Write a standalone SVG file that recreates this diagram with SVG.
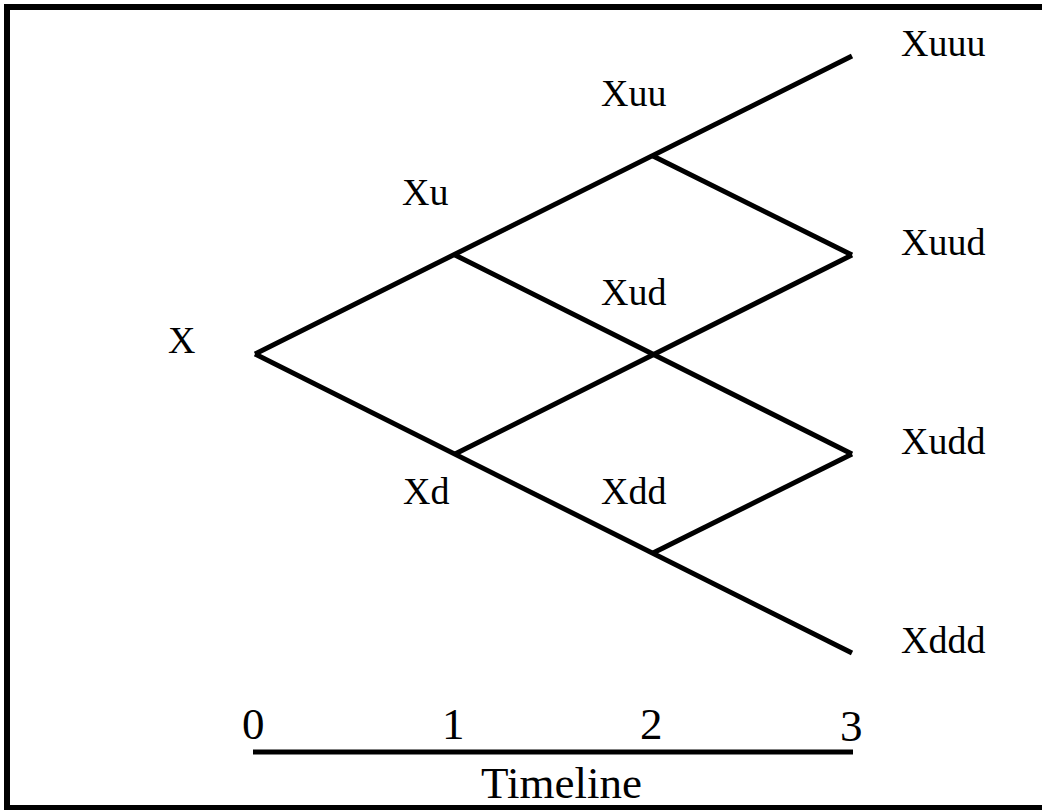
<svg xmlns="http://www.w3.org/2000/svg" width="1042" height="810" viewBox="0 0 1042 810">
<style>
.lbl{font-family:"Liberation Serif","Times New Roman",serif;font-size:38px;fill:#000}
.big{font-family:"Liberation Serif","Times New Roman",serif;font-size:45px;fill:#000}
.edge{stroke:#000;stroke-width:5;fill:none;stroke-linecap:butt}
</style>
<rect x="7" y="7" width="1040" height="801" fill="#fff" stroke="#000" stroke-width="6"/>
<g id="connectors">
<line class="edge" x1="255" y1="354" x2="852" y2="56"/>
<line class="edge" x1="255" y1="354" x2="852" y2="653"/>
<line class="edge" x1="455" y1="255" x2="852" y2="454"/>
<line class="edge" x1="653" y1="156" x2="852" y2="255"/>
<line class="edge" x1="455" y1="454" x2="852" y2="255"/>
<line class="edge" x1="653" y1="553" x2="852" y2="454"/>
</g>
<g id="n-x"><text class="lbl" x="168" y="353">X</text></g>
<g id="n-xu"><text class="lbl" x="402" y="205">Xu</text></g>
<g id="n-xd"><text class="lbl" x="403" y="504">Xd</text></g>
<g id="n-xuu"><text class="lbl" x="601" y="106">Xuu</text></g>
<g id="n-xud"><text class="lbl" x="601" y="305">Xud</text></g>
<g id="n-xdd"><text class="lbl" x="601" y="504">Xdd</text></g>
<g id="n-xuuu"><text class="lbl" x="901" y="56">Xuuu</text></g>
<g id="n-xuud"><text class="lbl" x="901" y="255">Xuud</text></g>
<g id="n-xudd"><text class="lbl" x="901" y="454">Xudd</text></g>
<g id="n-xddd"><text class="lbl" x="901" y="653">Xddd</text></g>
<g id="timeline">
<line x1="253" y1="752" x2="853" y2="752" stroke="#000" stroke-width="5"/>
<text class="big" x="242" y="739">0</text>
<text class="big" x="442" y="739">1</text>
<text class="big" x="640" y="739">2</text>
<text class="big" x="840" y="741">3</text>
<text class="big" x="481" y="798">Timeline</text>
</g>
</svg>
